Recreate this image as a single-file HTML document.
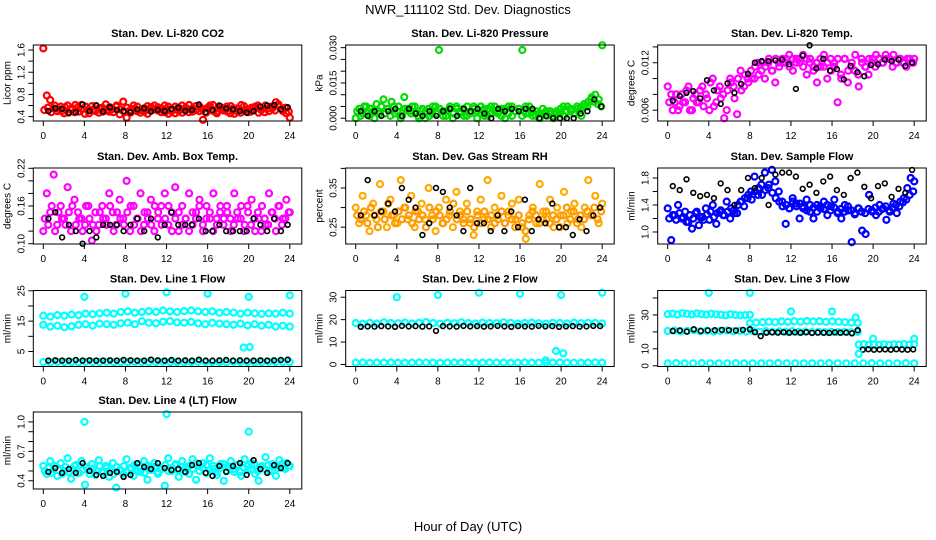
<!DOCTYPE html>
<html><head><meta charset="utf-8"><style>
body{margin:0;background:#fff;}
svg{display:block;font-family:"Liberation Sans",sans-serif;}
</style></head><body>
<svg id="chart" width="936" height="540" viewBox="0 0 936 540">
<text x="468" y="14" text-anchor="middle" font-size="13">NWR_111102 Std. Dev. Diagnostics</text>
<text x="468" y="531" text-anchor="middle" font-size="13">Hour of Day (UTC)</text>
<g id="panels"></g>
</svg>
<script>
const xTicks=[0,4,8,12,16,20,24];
const co2Red=[1.63,0.78,0.70,0.55,0.50,0.58,0.46,0.60,0.52,0.48,0.57,0.61,0.45,0.53,0.59,0.50,0.47,0.56,0.62,0.49,0.54,0.58,0.44,0.67,0.38,0.52,0.60,0.50,0.47,0.55,0.59,0.51,0.53,0.57,0.48,0.60,0.45,0.54,0.58,0.50,0.47,0.56,0.61,0.49,0.52,0.58,0.34,0.55,0.60,0.50,0.46,0.57,0.53,0.49,0.59,0.45,0.55,0.61,0.51,0.48,0.56,0.58,0.47,0.53,0.60,0.50,0.55,0.66,0.58,0.50,0.46,0.38];
const co2Red2=[0.52,0.56,0.48,0.60,0.54,0.50,0.57,0.47,0.55,0.61,0.49,0.53,0.58,0.46,0.52,0.59,0.55,0.49,0.51,0.57,0.48,0.60,0.53,0.50,0.56,0.47,0.54,0.58,0.52,0.49,0.45,0.57,0.60,0.51,0.55,0.48,0.58,0.50,0.46,0.56,0.60,0.52,0.48,0.55,0.59,0.50,0.53,0.47,0.57,0.61,0.49,0.54,0.51,0.58,0.46,0.55,0.50,0.47,0.59,0.53,0.49,0.56,0.60,0.52,0.48,0.55,0.58,0.51,0.62,0.54,0.56,0.49];
const co2Black=[0.50,0.55,0.54,0.47,0.48,0.62,0.50,0.60,0.49,0.57,0.52,0.50,0.48,0.53,0.55,0.49,0.52,0.50,0.54,0.56,0.50,0.52,0.62,0.48,0.52,0.60,0.55,0.53,0.50,0.47,0.50,0.58,0.60,0.61,0.53,0.57];
const presGreen=[0.000,0.004,0.002,0.005,0.001,0.003,0.006,0.002,0.008,0.004,0.001,0.005,0.003,0.000,0.009,0.004,0.002,0.005,0.001,0.003,0.000,0.004,0.002,0.005,0.029,0.003,0.001,0.004,0.000,0.005,0.002,0.004,0.001,0.003,0.005,0.000,0.002,0.004,0.001,0.005,0.003,0.002,0.004,0.000,0.005,0.001,0.003,0.004,0.029,0.002,0.005,0.001,0.003,0.000,0.002,0.001,0.003,0.000,0.002,0.004,0.001,0.005,0.003,0.002,0.004,0.001,0.005,0.007,0.009,0.010,0.008,0.031];
const presGreen2=[0.003,0.001,0.005,0.002,0.004,0.000,0.003,0.005,0.002,0.004,0.007,0.002,0.005,0.001,0.004,0.003,0.005,0.002,0.000,0.004,0.003,0.001,0.005,0.002,0.004,0.001,0.003,0.005,0.002,0.004,0.003,0.001,0.005,0.002,0.004,0.003,0.005,0.001,0.004,0.002,0.005,0.003,0.001,0.004,0.002,0.005,0.003,0.004,0.001,0.005,0.002,0.003,0.001,0.002,0.004,0.003,0.002,0.001,0.003,0.002,0.005,0.003,0.004,0.002,0.005,0.004,0.006,0.005,0.008,0.007,0.006,0.005];
const presBlack=[0.003,0.001,0.003,0.001,0.003,0.004,0.001,0.004,0.002,0.001,0.003,0.001,0.003,0.004,0.001,0.004,0.003,0.004,0.002,0.000,0.004,0.003,0.004,0.003,0.004,0.004,0.000,0.001,0.000,0.000,0.000,0.000,0.002,0.003,0.008,0.005];
const tempMag=[0.009,0.008,0.007,0.006,0.008,0.007,0.009,0.006,0.008,0.007,0.009,0.008,0.006,0.010,0.007,0.009,0.008,0.006,0.010,0.009,0.0055,0.011,0.009,0.010,0.011,0.010,0.012,0.011,0.010,0.012,0.011,0.0095,0.012,0.0125,0.012,0.013,0.0125,0.012,0.0125,0.013,0.0125,0.012,0.0115,0.012,0.0115,0.013,0.012,0.011,0.012,0.0125,0.010,0.0125,0.011,0.012,0.013,0.009,0.012,0.0115,0.0125,0.0125,0.013,0.0125,0.012,0.0125,0.0125,0.013,0.012,0.0125,0.012,0.0125,0.012,0.0125];
const tempMag2=[0.007,0.006,0.008,0.0065,0.007,0.0085,0.006,0.0075,0.007,0.0085,0.0065,0.0075,0.0095,0.0065,0.0085,0.0075,0.005,0.0085,0.0095,0.0075,0.010,0.0085,0.0105,0.0095,0.010,0.0115,0.0105,0.012,0.0115,0.0125,0.011,0.0125,0.0115,0.012,0.0125,0.0115,0.011,0.0125,0.012,0.0115,0.0105,0.0125,0.011,0.0095,0.0125,0.0115,0.010,0.0125,0.0115,0.007,0.0105,0.0125,0.0095,0.0115,0.011,0.0105,0.0125,0.0115,0.0105,0.012,0.0115,0.0125,0.012,0.013,0.0125,0.0115,0.012,0.0125,0.012,0.0115,0.0125,0.012];
const tempBlack=[0.0072,0.0078,0.0082,0.0084,0.0075,0.0098,0.0085,0.0068,0.0094,0.0082,0.0093,0.0106,0.0120,0.0122,0.0122,0.0123,0.0124,0.0118,0.0087,0.0129,0.0142,0.0113,0.0125,0.0110,0.0112,0.0099,0.0116,0.0108,0.0103,0.0117,0.0118,0.0124,0.0122,0.0124,0.0116,0.0120];
const ambMag=[0.12,0.18,0.15,0.21,0.13,0.16,0.14,0.19,0.12,0.17,0.15,0.14,0.13,0.16,0.105,0.15,0.13,0.16,0.14,0.18,0.15,0.13,0.17,0.14,0.20,0.12,0.16,0.14,0.18,0.13,0.15,0.17,0.12,0.14,0.16,0.18,0.13,0.15,0.19,0.12,0.16,0.14,0.18,0.13,0.15,0.17,0.12,0.16,0.14,0.18,0.13,0.16,0.14,0.15,0.12,0.18,0.14,0.16,0.13,0.15,0.17,0.12,0.14,0.16,0.13,0.18,0.15,0.12,0.16,0.14,0.17,0.15];
const ambMag2=[0.14,0.13,0.16,0.12,0.15,0.14,0.13,0.15,0.16,0.13,0.14,0.12,0.16,0.14,0.13,0.12,0.15,0.14,0.13,0.16,0.12,0.15,0.14,0.13,0.15,0.16,0.13,0.14,0.12,0.15,0.14,0.13,0.16,0.15,0.13,0.14,0.16,0.12,0.14,0.15,0.13,0.14,0.12,0.15,0.14,0.16,0.13,0.14,0.15,0.12,0.14,0.15,0.13,0.16,0.14,0.13,0.15,0.14,0.12,0.16,0.13,0.14,0.15,0.12,0.14,0.13,0.15,0.14,0.16,0.13,0.14,0.15];
const ambBlack=[0.14,0.15,0.11,0.13,0.12,0.10,0.12,0.11,0.13,0.13,0.13,0.12,0.13,0.14,0.12,0.14,0.11,0.13,0.15,0.13,0.13,0.13,0.14,0.12,0.12,0.13,0.12,0.12,0.12,0.12,0.14,0.13,0.12,0.14,0.12,0.13];
const rhOrange=[0.30,0.26,0.33,0.28,0.24,0.31,0.27,0.36,0.29,0.25,0.32,0.28,0.26,0.37,0.30,0.27,0.33,0.25,0.29,0.31,0.27,0.35,0.28,0.24,0.30,0.26,0.32,0.28,0.25,0.34,0.29,0.27,0.31,0.26,0.23,0.29,0.32,0.27,0.37,0.25,0.30,0.28,0.33,0.26,0.29,0.31,0.27,0.32,0.25,0.22,0.28,0.30,0.26,0.36,0.29,0.27,0.32,0.25,0.30,0.28,0.34,0.26,0.29,0.31,0.27,0.25,0.30,0.37,0.28,0.33,0.26,0.31];
const rhOrange2=[0.28,0.27,0.29,0.26,0.30,0.28,0.25,0.29,0.27,0.31,0.28,0.26,0.29,0.27,0.30,0.28,0.26,0.29,0.27,0.28,0.25,0.30,0.27,0.29,0.28,0.26,0.27,0.29,0.31,0.27,0.28,0.26,0.29,0.27,0.25,0.28,0.26,0.29,0.27,0.28,0.26,0.27,0.29,0.26,0.28,0.27,0.25,0.28,0.26,0.24,0.27,0.29,0.28,0.26,0.27,0.29,0.26,0.28,0.27,0.25,0.28,0.30,0.27,0.29,0.26,0.28,0.27,0.29,0.28,0.30,0.27,0.29];
const rhBlack=[0.28,0.37,0.28,0.29,0.31,0.29,0.35,0.32,0.30,0.23,0.26,0.35,0.34,0.30,0.28,0.24,0.35,0.26,0.26,0.24,0.28,0.24,0.29,0.25,0.32,0.24,0.27,0.26,0.31,0.25,0.25,0.23,0.27,0.24,0.28,0.30];
const flowBlue=[1.35,0.88,1.25,1.40,1.20,1.30,1.15,1.05,1.28,1.10,1.22,1.35,1.18,1.40,1.12,1.30,1.25,1.45,1.20,1.32,1.28,1.45,1.38,1.50,1.60,1.82,1.55,1.70,1.88,1.65,1.92,1.75,1.60,1.45,1.12,1.35,1.50,1.42,1.20,1.38,1.48,1.30,1.20,1.40,1.35,1.45,1.25,1.38,1.48,1.30,1.20,1.40,1.32,0.85,1.28,1.35,1.02,0.97,1.55,1.30,1.25,1.40,1.35,1.18,1.30,1.42,1.28,1.45,1.50,1.65,1.80,1.75];
const flowBlue2=[1.20,1.25,1.18,1.28,1.22,1.15,1.25,1.20,1.30,1.22,1.18,1.26,1.30,1.22,1.28,1.32,1.25,1.30,1.35,1.28,1.40,1.45,1.50,1.55,1.48,1.60,1.65,1.55,1.62,1.70,1.58,1.50,1.45,1.38,1.40,1.35,1.45,1.38,1.42,1.35,1.32,1.40,1.36,1.30,1.38,1.34,1.40,1.32,1.36,1.28,1.34,1.30,1.38,1.32,1.26,1.35,1.30,1.28,1.34,1.32,1.36,1.30,1.34,1.38,1.32,1.36,1.40,1.38,1.44,1.48,1.55,1.60];
const flowBlack=[1.68,1.62,1.78,1.58,1.53,1.55,1.50,1.72,1.62,1.40,1.62,1.80,1.65,1.80,1.40,1.85,1.88,1.88,1.82,1.64,1.70,1.58,1.75,1.82,1.62,1.55,1.80,1.88,1.67,1.50,1.68,1.72,1.52,1.64,1.58,1.92];
const l1Upper=[16.8,16.5,17.0,16.8,17.2,17.0,17.5,17.3,17.6,17.8,17.5,18.0,18.2,17.8,18.0,18.3,18.0,18.5,18.2,18.0,18.3,18.5,18.2,18.0,18.2,17.8,18.0,17.8,17.5,17.8,17.6,17.4,17.6,17.5,17.8,17.5];
const l1Lower=[13.8,13.2,13.5,13.0,13.3,13.8,14.0,13.5,14.2,14.0,13.8,14.3,14.5,14.0,15.0,14.5,14.3,14.8,15.0,14.6,14.5,14.8,14.3,14.0,14.5,14.2,14.0,13.8,14.2,13.6,14.0,13.5,13.8,13.2,13.5,13.2];
const l1Bottom=[1.5,1.4,1.6,1.5,1.5,1.4,1.6,1.5,1.5,1.6,1.4,1.5,1.5,1.6,1.5,1.4,1.5,1.6,1.5,1.5,1.4,1.5,1.6,1.5,1.5,1.4,1.5,1.6,1.5,1.5,1.4,1.5,1.6,1.5,1.5,1.5];
const l1Black=[2.0,2.1,2.0,2.0,2.2,2.0,2.1,2.0,2.0,2.1,2.0,2.2,2.1,2.0,2.0,2.3,2.1,2.0,2.2,2.0,2.1,2.0,2.3,2.0,2.0,2.1,2.2,2.0,2.1,2.0,2.0,2.1,2.0,2.1,2.2,2.3];
const l1OutHours=[4,8,12,16,20,24,19.5,20.1];
const l1Out=[23,24,24.5,24,23,23.5,6.3,6.5];
const l2Band=[18.5,18.2,18.6,18.3,18.8,18.5,18.4,18.7,18.3,18.6,18.9,18.5,18.2,18.6,18.4,18.8,18.5,18.3,18.7,18.5,18.4,18.8,18.6,18.3,18.5,18.7,18.4,18.2,18.6,18.5,18.3,18.7,18.4,18.6,18.5,18.3];
const l2Bottom=[0.8,0.9,0.7,0.8,0.8,0.9,0.8,0.7,0.8,0.9,0.8,0.8,0.7,0.8,0.9,0.8,0.8,0.7,0.8,0.9,0.8,0.8,0.7,0.8,0.9,0.8,0.8,0.7,0.8,0.9,0.8,0.8,0.7,0.8,0.9,0.8];
const l2Black=[16.8,17.0,16.9,17.1,17.0,16.8,17.2,17.0,17.1,16.9,17.0,15.0,17.1,17.0,16.9,17.2,17.0,17.1,16.9,17.0,17.2,17.0,16.8,17.1,17.0,16.9,17.2,17.0,17.1,16.8,17.0,17.1,16.9,17.0,17.2,17.1];
const l2OutHours=[4,8,12,16,20,24,19.5,20.2,18.5];
const l2Out=[30,31,32,31.5,31,32,6,5,1.8];
const l3Band30=[30.5,30.8,30.2,31.0,30.6,30.3,30.9,30.5,30.2,30.7,30.4,30.1,29.8,30.3,30.0,29.7,29.9,30.1];
const l3Band25=[25.2,25.5,25.8,26.0,25.7,26.2,25.9,26.3,26.0,26.4,26.1,26.3,25.9,26.2,26.0,25.7,25.5,25.3];
const l3Band20=[20.5,20.8,20.3,20.6,21.0,20.4,20.7,20.2,20.5,20.8,20.3,20.6,20.2,20.5,20.1,20.4,20.0,20.3,20.1,20.4,20.0,20.2,19.9,20.1,19.8,20.0,19.9,20.1,19.8,20.0];
const l3Band12=[12.5,12.8,12.3,12.6,12.4,12.7,12.3,12.6,12.5,12.8,12.4,12.6];
const l3Bottom=[1.5,1.6,1.4,1.5,1.6,1.5,1.4,1.5,1.6,1.5,1.5,1.4,1.5,1.6,1.5,1.5,1.4,1.5,1.5,1.6,1.5,1.4,1.5,1.5,1.6,1.5,1.4,1.5,1.6,1.5];
const l3Black20=[20.5,20.8,20.2,21.5,20.5,20.9,21.0,21.2,21.0,20.8,21.2,21.5];
const l3Black19=[19.8,17.5,19.5,19.8,19.6,19.8,19.5,19.7,19.5,19.8,19.4,19.6,19.5,19.4,19.7,19.5,19.6,19.2,21.0];
const l3Black10=[9.5,9.8,9.5,9.6,9.7,9.5,9.8,9.6,9.5,9.7];
const l3OutHours=[4,8,12,16,18.3,18.6,20,24];
const l3Out=[43,43,32,32,28.5,7,16,16];
const l4Cyan=[0.55,0.47,0.60,0.52,0.45,0.58,0.50,0.63,0.42,0.55,0.48,0.60,0.36,0.52,0.57,0.46,0.61,0.50,0.55,0.44,0.58,0.33,0.51,0.47,0.62,0.53,0.45,0.57,0.49,0.60,0.41,0.54,0.58,0.47,0.52,0.35,0.63,0.50,0.56,0.44,0.60,0.53,0.47,0.62,0.41,0.55,0.58,0.48,0.63,0.52,0.46,0.57,0.40,0.54,0.60,0.49,0.56,0.45,0.62,0.51,0.58,0.47,0.40,0.55,0.64,0.50,0.57,0.45,0.61,0.53,0.58,0.55];
const l4Cyan2=[0.50,0.53,0.48,0.55,0.51,0.47,0.54,0.49,0.52,0.56,0.48,0.51,0.54,0.47,0.52,0.50,0.55,0.48,0.53,0.50,0.47,0.54,0.51,0.55,0.49,0.52,0.56,0.50,0.53,0.48,0.55,0.51,0.54,0.49,0.52,0.56,0.50,0.53,0.57,0.51,0.54,0.49,0.55,0.52,0.58,0.50,0.53,0.56,0.51,0.55,0.49,0.53,0.57,0.50,0.54,0.52,0.56,0.49,0.53,0.55,0.51,0.57,0.50,0.54,0.52,0.56,0.50,0.55,0.53,0.57,0.52,0.55];
const l4Black=[0.49,0.53,0.48,0.52,0.48,0.58,0.50,0.46,0.45,0.48,0.49,0.44,0.46,0.58,0.54,0.52,0.58,0.53,0.51,0.52,0.49,0.56,0.58,0.48,0.45,0.55,0.49,0.55,0.58,0.46,0.61,0.52,0.48,0.56,0.53,0.58];
const l4OutHours=[4,12,20];
const l4Out=[1.0,1.08,0.9];

const COLX=[43.3,355.7,667.7], SPAN=246.5;
const ROWY=[[45,121],[168,244],[290.5,366.5],[412,489]];
const panels=[
 {name:'co2',title:'Stan. Dev. Li-820 CO2',ylab:'Licor ppm',c:0,r:0,lo:0.321,hi:1.691,ticks:[0.4,0.6,0.8,1.0,1.2,1.4,1.6],labels:['0.4','','0.8','','1.2','','1.6'],
  series:[[co2Red,0,24,'#ff0000'],[co2Red2,0.1,23.9,'#ff0000'],[co2Black,0.5,23.8,'#000']]},
 {name:'pressure',title:'Stan. Dev. Li-820 Pressure',ylab:'kPa',c:1,r:0,lo:-0.00117,hi:0.03113,ticks:[0,0.005,0.01,0.015,0.02,0.025,0.03],labels:['0.000','','','0.015','','','0.030'],
  series:[[presGreen,0,24,'#00dd00'],[presGreen2,0.15,23.9,'#00dd00'],[presBlack,0.5,23.9,'#000']]},
 {name:'temp',title:'Stan. Dev. Li-820 Temp.',ylab:'degrees C',c:2,r:0,lo:0.00464,hi:0.01424,ticks:[0.006,0.008,0.010,0.012,0.014],labels:['0.006','','','0.012',''],
  series:[[tempMag,0,24,'#ff00ff'],[tempMag2,0.15,23.9,'#ff00ff'],[tempBlack,0.5,23.8,'#000']]},
 {name:'amb-box',title:'Stan. Dev. Amb. Box Temp.',ylab:'degrees C',c:0,r:1,lo:0.0995,hi:0.2205,ticks:[0.10,0.12,0.14,0.16,0.18,0.20,0.22],labels:['0.10','','','0.16','','','0.22'],
  series:[[ambMag,0,24,'#ff00ff'],[ambMag2,0.15,23.9,'#ff00ff'],[ambBlack,0.5,23.8,'#000']]},
 {name:'rh',title:'Stan. Dev. Gas Stream RH',ylab:'percent',c:1,r:1,lo:0.207,hi:0.401,ticks:[0.25,0.30,0.35,0.40],labels:['0.25','','0.35',''],
  series:[[rhOrange,0,24,'#ffaa00'],[rhOrange2,0.15,23.9,'#ff9900'],[rhBlack,0.5,23.8,'#000']]},
 {name:'sample-flow',title:'Stan. Dev. Sample Flow',ylab:'ml/min',c:2,r:1,lo:0.822,hi:1.948,ticks:[1.0,1.2,1.4,1.6,1.8],labels:['1.0','','1.4','','1.8'],
  series:[[flowBlue,0,24,'#0000ff'],[flowBlue2,0.15,23.9,'#0000ff'],[flowBlack,0.5,23.8,'#000']]},
 {name:'line1',title:'Stan. Dev. Line 1 Flow',ylab:'ml/min',c:0,r:2,lo:0.06,hi:25.1,ticks:[5,10,15,20,25],labels:['5','','15','','25'],
  series:[[l1Upper,0,24,'#00ffff'],[l1Lower,0,24,'#00ffff'],[l1Bottom,0,24,'#00ffff'],[l1Black,0.5,23.8,'#000'],[l1Out,l1OutHours,null,'#00ffff']]},
 {name:'line2',title:'Stan. Dev. Line 2 Flow',ylab:'ml/min',c:1,r:2,lo:-0.9,hi:33,ticks:[0,10,20,30],labels:['0','10','20','30'],
  series:[[l2Band,0,24,'#00ffff'],[l2Bottom,0,24,'#00ffff'],[l2Black,0.5,23.8,'#000'],[l2Out,l2OutHours,null,'#00ffff']]},
 {name:'line3',title:'Stan. Dev. Line 3 Flow',ylab:'ml/min',c:2,r:2,lo:-0.4,hi:44.4,ticks:[0,10,20,30,40],labels:['0','10','','30',''],
  series:[[l3Band30,0,8,'#00ffff'],[l3Band25,8,18.5,'#00ffff'],[l3Band20,0,18.5,'#00ffff'],[l3Band12,18.6,24,'#00ffff'],[l3Bottom,0,24,'#00ffff'],
   [l3Black20,0.5,8,'#000'],[l3Black19,8.5,18.5,'#000'],[l3Black10,19,23.9,'#000'],[l3Out,l3OutHours,null,'#00ffff']]},
 {name:'line4',title:'Stan. Dev. Line 4 (LT) Flow',ylab:'ml/min',c:0,r:3,lo:0.316,hi:1.101,ticks:[0.4,0.5,0.6,0.7,0.8,0.9,1.0],labels:['0.4','','','0.7','','','1.0'],
  series:[[l4Cyan,0,24,'#00ffff'],[l4Cyan2,0.15,23.9,'#00ffff'],[l4Black,0.5,23.8,'#000'],[l4Out,l4OutHours,null,'#00ffff']]}
];
const NS='http://www.w3.org/2000/svg';
function mk(tag,attrs,parent){const e=document.createElementNS(NS,tag);for(const k in attrs)e.setAttribute(k,attrs[k]);parent.appendChild(e);return e;}
const root=document.getElementById('panels');
panels.forEach(p=>{
  const x0=COLX[p.c], top=ROWY[p.r][0], bot=ROWY[p.r][1];
  const L=x0-10, R=x0+SPAN+12;
  const sx=h=>x0+h/24*SPAN;
  const sy=v=>bot-(v-p.lo)/(p.hi-p.lo)*(bot-top);
  const g=mk('g',{},root);
  
  
  const t=mk('text',{x:(L+R)/2,y:top-8,'text-anchor':'middle','font-size':11,'font-weight':'bold'},g);
  t.textContent=p.title;
  
  
  const pts=mk('g',{fill:'none'},g);
  
  
  p.series.forEach(s=>{
    const vals=s[0];
    const isBlack=s[3]==='#000';
    vals.forEach((v,i)=>{
      const h=Array.isArray(s[1])?s[1][i]:(vals.length>1?s[1]+i*(s[2]-s[1])/(vals.length-1):s[1]);
      const c=mk('circle',{cx:sx(h).toFixed(1),cy:sy(v).toFixed(1),r:isBlack?2.4:3,stroke:s[3],'stroke-width':isBlack?1.6:2.2},pts);
      
      
    });
  });
  const box=mk('rect',{x:L,y:top,width:R-L,height:bot-top,fill:'none',stroke:'#000','stroke-width':1},g);
  
  
  const ax=mk('g',{stroke:'#000','stroke-width':1},g);
  
  
  xTicks.forEach(h=>{
    mk('line',{x1:sx(h),x2:sx(h),y1:bot,y2:bot+5},ax);
    const tx=mk('text',{x:sx(h),y:bot+18,'text-anchor':'middle','font-size':10,stroke:'none'},ax);
    tx.textContent=h;
    
    
  });
  p.ticks.forEach((v,i)=>{
    const y=sy(v);
    mk('line',{x1:L-5,x2:L,y1:y,y2:y},ax);
    if(p.labels[i]){
      const ty=mk('text',{x:L-9,y:y,'text-anchor':'middle','font-size':10,stroke:'none',transform:`rotate(-90 ${L-9} ${y})`},ax);
      ty.textContent=p.labels[i];
      
      
    }
  });
  const ym=(top+bot)/2;
  const yl=mk('text',{x:L-23,y:ym,'text-anchor':'middle','font-size':10,transform:`rotate(-90 ${L-23} ${ym})`},g);
  yl.textContent=p.ylab;
  
  
});
</script>
</body></html>
